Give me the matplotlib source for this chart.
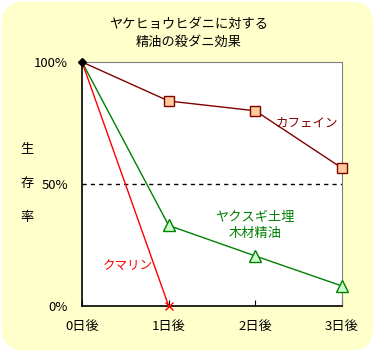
import matplotlib
matplotlib.use("Agg")
import matplotlib.pyplot as plt
from matplotlib.patches import FancyBboxPatch

plt.rcParams['font.family'] = ['Noto Sans CJK JP', 'DejaVu Sans']

days = [0, 1, 2, 3]
day_labels = ['0日後', '1日後', '2日後', '3日後']
caffeine = [100, 84, 80, 56.5]
yakusugi = [100, 33, 20.5, 8.2]
coumarin_days = [0, 1]
coumarin = [100, 0]
ylabel_chars = ['生', '存', '率']

bg = '#FFFFCC'
fig = plt.figure(figsize=(3.75, 3.52), dpi=100, facecolor='white')
# rounded yellow panel behind everything
fig.patches.append(FancyBboxPatch((0.005, 0.005), 0.99, 0.99, boxstyle='round,pad=0,rounding_size=0.06',
                                  transform=fig.transFigure, facecolor=bg, edgecolor='none', zorder=-10))

ax = fig.add_axes([0.2187, 0.1307, 0.6933, 0.6932])
ax.set_facecolor('white')
ax.set_xlim(0, 3)
ax.set_ylim(0, 100)

# 50% dashed reference
ax.axhline(50, color='black', linestyle=(0, (3, 3)), linewidth=1)

ax.plot(days, caffeine, color='#800000', linewidth=1, marker='s', markersize=7, markevery=[1, 2, 3],
        markerfacecolor='#FFCC99', markeredgecolor='#800000', clip_on=False, zorder=3)
ax.plot(days, yakusugi, color='#008000', linewidth=1, marker='^', markersize=8, markevery=[1, 2, 3],
        markerfacecolor='#CCFFCC', markeredgecolor='#008000', clip_on=False, zorder=3)
ax.plot(coumarin_days, coumarin, color='#FF0000', linewidth=1, marker='x', markersize=6, markevery=[1],
        markeredgecolor='#FF0000', clip_on=False, zorder=3)
# common start point
ax.plot([0], [100], marker='D', color='black', markersize=4, clip_on=False, zorder=4)

for s in ['top', 'right']:
    ax.spines[s].set_color('#808080')
for s in ['left', 'bottom']:
    ax.spines[s].set_color('black')
    ax.spines[s].set_linewidth(1.2)

ax.set_xticks(days)
ax.set_xticklabels(day_labels, fontsize=9.5)
ax.set_yticks([0, 50, 100])
ax.set_yticklabels(['0%', '50%', '100%'], fontsize=9.5)
ax.tick_params(axis='x', direction='in', length=4, pad=10)
ax.tick_params(axis='y', length=0, pad=10)

ax.text(2.23, 75, 'カフェイン', color='#800000', fontsize=9, ha='left', va='center')
ax.text(2.0, 33, 'ヤクスギ土埋\n木材精油', color='#008000', fontsize=9.5, ha='center', va='center',
        linespacing=1.3)
ax.text(0.53, 16.5, 'クマリン', color='#FF0000', fontsize=9, ha='center', va='center')

fig.text(0.502, 0.905, 'ヤケヒョウヒダニに対する\n精油の殺ダニ効果', ha='center', va='center',
         fontsize=9.5, linespacing=1.4)
for i, ch in enumerate(ylabel_chars):
    fig.text(0.072, 1 - (150 + 34 * i) / 352, ch, ha='center', va='center', fontsize=9.5)

fig.savefig('out.png', dpi=100, facecolor=fig.get_facecolor())
